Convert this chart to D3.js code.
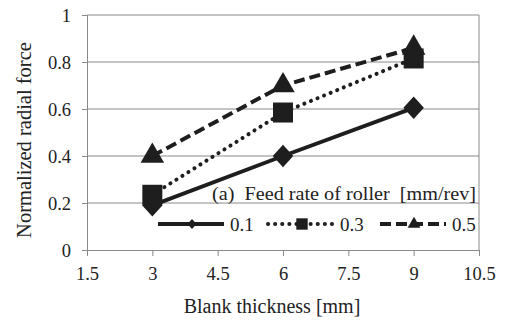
<!DOCTYPE html>
<html>
<head>
<meta charset="utf-8">
<script src="https://cdn.jsdelivr.net/npm/d3@7"></script>
<style>
  html, body { margin: 0; padding: 0; background: #fff; }
</style>
</head>
<body>
<svg id="chart" width="507" height="320"></svg>
<script>
// Blank thickness [mm] on the x axis
const thickness = [3, 6, 9];
// Normalized radial force for each feed rate of roller [mm/rev]
const feed01 = [0.19, 0.40, 0.605];
const feed03 = [0.235, 0.585, 0.815];
const feed05 = [0.40, 0.70, 0.86];
const seriesNames = ["0.1", "0.3", "0.5"];
const xTicks = [1.5, 3, 4.5, 6, 7.5, 9, 10.5];
const yTicks = [0, 0.2, 0.4, 0.6, 0.8, 1];

const FONT = "'Liberation Serif', 'Times New Roman', monospace";
const svg = d3.select("#chart");
const m = { left: 87, right: 479, top: 15, bottom: 250 };
const ink = "#1e1e1e";
const grid = "#8a8a8a";

const x = d3.scaleLinear().domain([1.5, 10.5]).range([m.left, m.right]);
const y = d3.scaleLinear().domain([0, 1]).range([m.bottom, m.top]);

// horizontal gridlines
svg.append("g").selectAll("line").data(yTicks.slice(1)).join("line")
  .attr("x1", m.left).attr("x2", m.right)
  .attr("y1", d => y(d)).attr("y2", d => y(d))
  .attr("stroke", grid).attr("stroke-width", 1);

// right border of the plot area
svg.append("line").attr("x1", m.right).attr("x2", m.right)
  .attr("y1", m.top).attr("y2", m.bottom)
  .attr("stroke", grid).attr("stroke-width", 1);

// axes
const xAxis = svg.append("g").attr("transform", `translate(0,${m.bottom})`)
  .call(d3.axisBottom(x).tickValues(xTicks).tickFormat(d3.format("")).tickSize(6));
xAxis.selectAll("text").attr("y", 30).attr("dy", 0);

const yAxis = svg.append("g").attr("transform", `translate(${m.left},0)`)
  .call(d3.axisLeft(y).tickValues(yTicks)
    .tickFormat(d => d === 0 ? "0" : d === 1 ? "1" : d3.format(".1f")(d)).tickSize(5));
yAxis.selectAll("text").attr("x", -16).attr("dy", "0.34em");

[xAxis, yAxis].forEach(a => {
  a.attr("font-family", null).attr("font-size", null);
  a.selectAll("path, line").attr("stroke", grid);
  a.selectAll("text").attr("fill", "#222")
    .style("font-family", FONT).style("font-size", "18.5px");
});

const line = d3.line().x((d, i) => x(thickness[i])).y(d => y(d));

// diamond drawn as a rotated square, a little taller than wide
const styles = [
  { data: feed01, dash: null, cap: "butt", symbol: d3.symbolSquare, size: 210, legendSize: 40, extra: " scale(1,1.1) rotate(45)" },
  { data: feed03, dash: "0.1 7", cap: "round", symbol: d3.symbolSquare, size: 400, legendSize: 130, extra: "" },
  { data: feed05, dash: "11 5", cap: "butt", symbol: d3.symbolTriangle, size: 240, legendSize: 70, extra: "" }
];

styles.forEach(s => {
  svg.append("path").datum(s.data)
    .attr("d", line)
    .attr("fill", "none").attr("stroke", ink)
    .attr("stroke-width", 4)
    .attr("stroke-linecap", s.cap)
    .attr("stroke-dasharray", s.dash);
});

styles.forEach(s => {
  svg.append("g").selectAll("path").data(s.data).join("path")
    .attr("transform", (d, i) => `translate(${x(thickness[i])},${y(d)})` + s.extra)
    .attr("d", d3.symbol().type(s.symbol).size(s.size))
    .attr("fill", ink);
});

// legend title
svg.append("text").attr("x", 212).attr("y", 200)
  .style("font-family", FONT).style("font-size", "19px").attr("fill", "#222")
  .attr("xml:space", "preserve")
  .attr("textLength", 264).attr("lengthAdjust", "spacingAndGlyphs")
  .text("(a)  Feed rate of roller  [mm/rev]");

// legend entries
const legendY = 224;
const legendX = [158, 268, 380];
styles.forEach((s, k) => {
  const x0 = legendX[k];
  svg.append("line").attr("x1", x0).attr("x2", x0 + 66)
    .attr("y1", legendY).attr("y2", legendY)
    .attr("stroke", ink).attr("stroke-width", 4)
    .attr("stroke-linecap", s.cap).attr("stroke-dasharray", s.dash);
  svg.append("path")
    .attr("transform", `translate(${x0 + 34},${legendY})` + s.extra)
    .attr("d", d3.symbol().type(s.symbol).size(s.legendSize))
    .attr("fill", ink);
  svg.append("text").attr("x", x0 + 72).attr("y", legendY + 6.5)
    .style("font-family", FONT).style("font-size", "19px").attr("fill", "#222")
    .text(seriesNames[k]);
});

// axis titles
svg.append("text").attr("x", 272).attr("y", 313)
  .attr("text-anchor", "middle").attr("fill", "#222")
  .style("font-family", FONT).style("font-size", "20px")
  .text("Blank thickness [mm]");
svg.append("text")
  .attr("transform", "translate(31,140) rotate(-90)")
  .attr("text-anchor", "middle").attr("fill", "#222")
  .style("font-family", FONT).style("font-size", "20.5px")
  .text("Normalized radial force");
</script>
</body>
</html>
